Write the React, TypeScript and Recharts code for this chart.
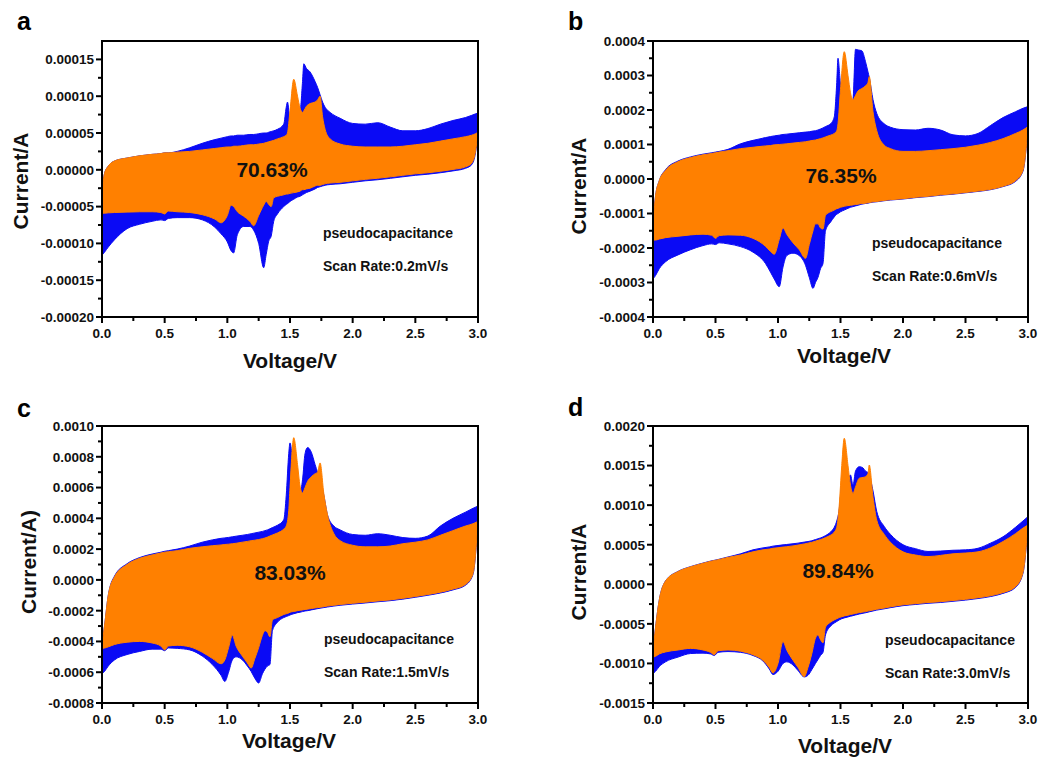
import React from 'react';
import { ComposedChart, Area, XAxis, YAxis } from 'recharts';

// currents below are written in units of 1e-4 A
const UNIT = 1e-4;

const voltageTicks = [0, 0.5, 1.0, 1.5, 2.0, 2.5, 3.0];

// ---- panel a : 0.2 mV/s ----
const voltageA = [0, 0.02, 0.05, 0.1, 0.2, 0.3, 0.4, 0.47, 0.5, 0.53,
    0.6, 0.7, 0.8, 0.9, 0.95, 1.0, 1.03, 1.05, 1.08, 1.13,
    1.18, 1.21, 1.25, 1.29, 1.31, 1.33, 1.35, 1.37, 1.4, 1.45,
    1.47, 1.48, 1.5, 1.53, 1.56, 1.58, 1.6, 1.61, 1.63, 1.66,
    1.7, 1.72, 1.74, 1.76, 1.78, 1.82, 1.9, 2.0, 2.1, 2.2,
    2.3, 2.4, 2.5, 2.6, 2.7, 2.8, 2.9, 2.95, 2.98, 3.0];
const totalUpA = [-0.3, -0.05, 0.05, 0.12, 0.16, 0.19, 0.21, 0.22, 0.23, 0.23,
    0.25, 0.3, 0.36, 0.41, 0.43, 0.45, 0.46, 0.46, 0.47, 0.47,
    0.48, 0.48, 0.49, 0.5, 0.5, 0.51, 0.52, 0.53, 0.55, 0.62,
    0.85, 0.92, 0.7, 0.9, 0.85, 0.8, 1.2, 1.44, 1.38, 1.33,
    1.2, 1.12, 1.02, 0.92, 0.85, 0.78, 0.7, 0.63, 0.62, 0.64,
    0.58, 0.53, 0.53, 0.56, 0.62, 0.67, 0.71, 0.74, 0.76, 0.77];
const totalDownA = [-1.16, -1.12, -1.05, -0.95, -0.8, -0.74, -0.7, -0.68, -0.69, -0.66,
    -0.65, -0.65, -0.68, -0.78, -0.87, -0.98, -1.1, -1.13, -0.88, -0.77,
    -0.77, -0.82, -1.0, -1.33, -1.15, -0.97, -0.9, -0.7, -0.6, -0.5,
    -0.47, -0.46, -0.43, -0.4, -0.37, -0.36, -0.34, -0.33, -0.31, -0.29,
    -0.26, -0.24, -0.23, -0.22, -0.21, -0.2, -0.19, -0.17, -0.15, -0.135,
    -0.116, -0.095, -0.075, -0.06, -0.04, -0.015, 0.02, 0.07, 0.23, 0.5];
const pseudoUpA = [-0.3, -0.05, 0.05, 0.12, 0.16, 0.19, 0.21, 0.22, 0.23, 0.23,
    0.24, 0.25, 0.27, 0.29, 0.3, 0.31, 0.31, 0.32, 0.32, 0.33,
    0.34, 0.34, 0.35, 0.36, 0.37, 0.38, 0.39, 0.4, 0.42, 0.45,
    0.47, 0.5, 0.8, 1.23, 1.0, 0.84, 0.78, 0.8, 0.86, 0.9,
    0.92, 0.95, 1.0, 0.72, 0.55, 0.42, 0.35, 0.32, 0.31, 0.31,
    0.31, 0.32, 0.34, 0.36, 0.39, 0.42, 0.45, 0.47, 0.49, 0.51];
const pseudoDownA = [-0.59, -0.59, -0.585, -0.58, -0.575, -0.57, -0.57, -0.58, -0.6, -0.56,
    -0.57, -0.58, -0.61, -0.67, -0.72, -0.62, -0.48, -0.5, -0.57, -0.63,
    -0.7, -0.76, -0.62, -0.48, -0.43, -0.47, -0.5, -0.38, -0.36, -0.34,
    -0.33, -0.33, -0.32, -0.31, -0.3, -0.29, -0.27, -0.27, -0.26, -0.25,
    -0.22, -0.21, -0.21, -0.2, -0.19, -0.18, -0.17, -0.15, -0.13, -0.115,
    -0.096, -0.075, -0.055, -0.04, -0.02, 0.005, 0.04, 0.09, 0.25, 0.5];
const currentTicksA = [-0.0002, -0.00015, -0.0001, -0.00005, 0, 0.00005, 0.0001, 0.00015];

// ---- panel b : 0.6 mV/s ----
const voltageB = [0, 0.02, 0.05, 0.1, 0.2, 0.3, 0.4, 0.47, 0.5, 0.53,
    0.6, 0.7, 0.8, 0.9, 0.94, 0.97, 1.01, 1.04, 1.07, 1.12,
    1.17, 1.22, 1.25, 1.28, 1.3, 1.32, 1.34, 1.36, 1.38, 1.42,
    1.45, 1.47, 1.48, 1.5, 1.53, 1.56, 1.58, 1.6, 1.62, 1.64,
    1.67, 1.7, 1.72, 1.73, 1.76, 1.79, 1.85, 1.9, 2.0, 2.1,
    2.2, 2.3, 2.4, 2.5, 2.6, 2.7, 2.8, 2.9, 2.96, 3.0];
const totalUpB = [-1.3, -0.5, -0.05, 0.27, 0.52, 0.64, 0.72, 0.76, 0.78, 0.8,
    0.86, 1.02, 1.12, 1.2, 1.23, 1.25, 1.27, 1.29, 1.3, 1.32,
    1.34, 1.36, 1.37, 1.39, 1.4, 1.42, 1.45, 1.48, 1.52, 1.6,
    1.8, 2.8, 3.5, 2.8, 2.6, 2.3, 2.1, 2.3, 3.76, 3.74,
    3.72, 3.4, 3.1, 2.95, 2.3, 1.9, 1.6, 1.5, 1.43, 1.42,
    1.47, 1.42, 1.28, 1.25, 1.32, 1.55, 1.78, 1.95, 2.05, 2.1];
const totalDownB = [-2.9, -2.8, -2.6, -2.4, -2.2, -2.05, -1.93, -1.88, -1.9, -1.85,
    -1.88, -1.96, -2.12, -2.45, -2.7, -2.9, -3.12, -2.55, -2.22, -2.15,
    -2.22, -2.5, -2.85, -3.17, -3.0, -2.85, -2.6, -2.45, -1.5, -1.25,
    -1.1, -1.02, -1.0, -0.95, -0.9, -0.85, -0.82, -0.8, -0.78, -0.76,
    -0.73, -0.71, -0.7, -0.69, -0.67, -0.66, -0.63, -0.61, -0.58, -0.54,
    -0.51, -0.47, -0.44, -0.4, -0.36, -0.31, -0.22, -0.07, 0.23, 1.5];
const pseudoUpB = [-1.3, -0.5, -0.05, 0.25, 0.5, 0.62, 0.7, 0.74, 0.76, 0.78,
    0.82, 0.88, 0.92, 0.96, 0.97, 0.99, 1.0, 1.01, 1.02, 1.04,
    1.06, 1.08, 1.1, 1.12, 1.13, 1.15, 1.17, 1.19, 1.22, 1.27,
    1.32, 1.4, 1.6, 2.6, 3.69, 3.0, 2.5, 2.3, 2.42, 2.55,
    2.62, 2.7, 2.8, 2.97, 1.95, 1.4, 0.98, 0.88, 0.8, 0.8,
    0.82, 0.85, 0.88, 0.92, 0.98, 1.06, 1.17, 1.32, 1.42, 1.52];
const pseudoDownB = [-1.77, -1.77, -1.74, -1.7, -1.66, -1.62, -1.6, -1.63, -1.72, -1.64,
    -1.62, -1.63, -1.72, -1.95, -2.1, -2.18, -1.75, -1.42, -1.6, -1.85,
    -2.05, -2.3, -1.9, -1.5, -1.3, -1.3, -1.42, -1.45, -1.05, -0.95,
    -0.9, -0.86, -0.85, -0.82, -0.79, -0.77, -0.76, -0.75, -0.74, -0.73,
    -0.71, -0.7, -0.69, -0.68, -0.66, -0.65, -0.62, -0.6, -0.57, -0.53,
    -0.5, -0.46, -0.43, -0.39, -0.35, -0.3, -0.21, -0.05, 0.25, 1.5];
const currentTicksB = [-0.0004, -0.0003, -0.0002, -0.0001, 0, 0.0001, 0.0002, 0.0003, 0.0004];

// ---- panel c : 1.5 mV/s ----
const voltageC = [0, 0.02, 0.05, 0.1, 0.2, 0.3, 0.4, 0.47, 0.5, 0.53,
    0.6, 0.7, 0.8, 0.88, 0.95, 0.98, 1.01, 1.04, 1.07, 1.12,
    1.16, 1.19, 1.22, 1.25, 1.28, 1.3, 1.32, 1.34, 1.36, 1.4,
    1.45, 1.47, 1.49, 1.5, 1.53, 1.56, 1.58, 1.6, 1.62, 1.64,
    1.67, 1.7, 1.72, 1.74, 1.77, 1.8, 1.85, 1.9, 2.0, 2.1,
    2.2, 2.3, 2.4, 2.5, 2.6, 2.7, 2.8, 2.9, 2.96, 3.0];
const totalUpC = [-4.2, -3.0, -1.0, 0.25, 1.05, 1.45, 1.68, 1.8, 1.86, 1.9,
    2.0, 2.2, 2.45, 2.6, 2.7, 2.73, 2.76, 2.8, 2.84, 2.9,
    2.95, 3.0, 3.05, 3.1, 3.15, 3.2, 3.25, 3.32, 3.4, 3.55,
    3.9, 5.5, 8.2, 8.9, 7.0, 6.0, 5.7, 6.5, 8.2, 8.6,
    8.3, 7.5, 7.0, 6.6, 5.5, 4.2, 3.5, 3.25, 2.95, 2.9,
    3.0, 2.9, 2.75, 2.7, 2.85, 3.5, 4.0, 4.4, 4.65, 4.8];
const totalDownC = [-6.1, -5.95, -5.6, -5.2, -4.85, -4.65, -4.5, -4.5, -4.6, -4.42,
    -4.45, -4.55, -4.95, -5.5, -6.2, -6.6, -6.0, -5.2, -5.0, -5.2,
    -5.6, -5.95, -6.4, -6.7, -6.1, -5.8, -5.6, -5.5, -3.3, -2.75,
    -2.45, -2.38, -2.32, -2.28, -2.2, -2.13, -2.1, -2.06, -2.02, -2.0,
    -1.95, -1.9, -1.87, -1.84, -1.8, -1.76, -1.7, -1.65, -1.57, -1.5,
    -1.42, -1.35, -1.25, -1.13, -1.0, -0.85, -0.65, -0.35, 0.35, 3.8];
const pseudoUpC = [-4.2, -3.0, -1.0, 0.2, 1.0, 1.4, 1.62, 1.75, 1.8, 1.83,
    1.9, 2.05, 2.15, 2.22, 2.27, 2.3, 2.32, 2.35, 2.38, 2.45,
    2.5, 2.55, 2.58, 2.62, 2.68, 2.72, 2.78, 2.85, 2.92, 3.05,
    3.3, 3.5, 4.5, 6.0, 9.24, 7.5, 6.1, 5.65, 6.0, 6.4,
    6.7, 6.9, 7.0, 7.6, 5.6, 4.2, 3.0, 2.55, 2.25, 2.15,
    2.15, 2.2, 2.35, 2.45, 2.6, 2.9, 3.2, 3.5, 3.65, 3.8];
const pseudoDownC = [-4.45, -4.43, -4.35, -4.2, -4.05, -4.0, -4.1, -4.3, -4.55, -4.3,
    -4.25, -4.35, -4.7, -5.1, -5.45, -5.2, -4.4, -3.6, -4.3, -4.95,
    -5.4, -5.73, -5.1, -4.4, -3.6, -3.3, -3.4, -3.7, -2.6, -2.45,
    -2.25, -2.2, -2.15, -2.1, -2.05, -2.0, -1.97, -1.95, -1.92, -1.9,
    -1.86, -1.82, -1.8, -1.78, -1.74, -1.7, -1.65, -1.6, -1.52, -1.45,
    -1.37, -1.3, -1.2, -1.08, -0.95, -0.8, -0.6, -0.3, 0.4, 3.8];
const currentTicksC = [-0.0008, -0.0006, -0.0004, -0.0002, 0, 0.0002, 0.0004, 0.0006, 0.0008, 0.001];

// ---- panel d : 3.0 mV/s ----
const voltageD = [0, 0.02, 0.05, 0.1, 0.2, 0.3, 0.4, 0.46, 0.49, 0.52,
    0.6, 0.7, 0.8, 0.88, 0.93, 0.96, 1.0, 1.04, 1.07, 1.12,
    1.16, 1.21, 1.24, 1.27, 1.3, 1.32, 1.34, 1.36, 1.38, 1.42,
    1.45, 1.47, 1.49, 1.51, 1.53, 1.56, 1.58, 1.6, 1.62, 1.65,
    1.68, 1.7, 1.72, 1.73, 1.76, 1.79, 1.85, 1.9, 2.0, 2.1,
    2.2, 2.3, 2.4, 2.5, 2.6, 2.7, 2.8, 2.9, 2.96, 3.0];
const totalUpD = [-8.5, -5.5, -2.0, 0.42, 1.63, 2.23, 2.68, 2.93, 3.03, 3.13,
    3.45, 3.85, 4.35, 4.6, 4.72, 4.82, 4.9, 4.98, 5.03, 5.12,
    5.2, 5.33, 5.4, 5.5, 5.65, 5.75, 5.86, 5.98, 6.15, 6.6,
    7.2, 8.0, 9.5, 13.0, 15.0, 13.5, 13.8, 12.5, 14.3, 14.86,
    14.7, 14.3, 14.1, 13.8, 11.8, 9.2, 7.3, 6.3, 5.0, 4.5,
    4.15, 4.2, 4.3, 4.35, 4.55, 5.2, 6.0, 7.2, 8.0, 8.55];
const totalDownD = [-11.3, -11.0, -10.4, -9.8, -9.2, -8.75, -8.7, -8.8, -9.0, -8.6,
    -8.5, -8.6, -9.0, -9.7, -10.7, -11.4, -11.0, -10.0, -9.8, -10.2,
    -10.9, -11.7, -11.5, -10.8, -10.0, -9.5, -9.0, -8.6, -6.4, -5.3,
    -4.9, -4.7, -4.5, -4.35, -4.25, -4.12, -4.04, -3.96, -3.88, -3.76,
    -3.66, -3.6, -3.52, -3.48, -3.37, -3.26, -3.1, -2.95, -2.7, -2.55,
    -2.4, -2.3, -2.15, -2.0, -1.8, -1.55, -1.15, -0.4, 1.4, 7.5];
const pseudoUpD = [-8.5, -5.5, -2.0, 0.4, 1.6, 2.2, 2.65, 2.9, 3.0, 3.1,
    3.4, 3.7, 4.1, 4.35, 4.45, 4.55, 4.62, 4.7, 4.75, 4.85,
    4.95, 5.1, 5.2, 5.3, 5.45, 5.55, 5.65, 5.75, 5.9, 6.2,
    6.6, 7.2, 10.0, 15.0, 18.45, 15.0, 12.5, 11.5, 12.3, 13.4,
    13.5, 13.6, 14.0, 15.07, 11.0, 8.1, 6.3, 5.3, 4.1, 3.7,
    3.5, 3.65, 3.85, 3.95, 4.1, 4.6, 5.4, 6.4, 7.1, 7.5];
const pseudoDownD = [-9.2, -9.1, -8.8, -8.55, -8.3, -8.1, -8.3, -8.6, -8.9, -8.4,
    -8.3, -8.45, -8.9, -9.6, -10.5, -11.2, -10.0, -7.25, -8.3, -9.6,
    -10.5, -11.67, -10.5, -8.8, -6.8, -6.4, -7.0, -7.4, -5.4, -4.8,
    -4.5, -4.35, -4.2, -4.1, -4.0, -3.9, -3.82, -3.75, -3.68, -3.58,
    -3.5, -3.45, -3.38, -3.35, -3.25, -3.15, -3.0, -2.85, -2.6, -2.45,
    -2.3, -2.2, -2.05, -1.9, -1.7, -1.45, -1.05, -0.3, 1.5, 7.5];
const currentTicksD = [-0.0015, -0.001, -0.0005, 0, 0.0005, 0.001, 0.0015, 0.002];

const percentLabels = ['70.63%', '76.35%', '83.03%', '89.84%'];
const scanRates = ['0.2mV/s', '0.6mV/s', '1.5mV/s', '3.0mV/s'];

const BLUE = '#0a0af5';
const ORANGE = '#ff8000';
const FONT = 'Arial, Helvetica, sans-serif';
const FRAME = 2;

// majors plus one minor tick between each pair
const withMinors = (majors: number[]) => {
    const out: number[] = [];
    majors.forEach((m, i) => {
        out.push(m);
        if (i < majors.length - 1) out.push((m + majors[i + 1]) / 2);
    });
    return out;
};

const isMajor = (v: number, majors: number[]) => majors.some(m => Math.abs(m - v) < 1e-12);

const YTick = ({ x, y, payload, majors, digits }: any) => {
    const major = isMajor(payload.value, majors);
    return (
        <g>
            <line x1={x} x2={x - (major ? 6 : 4)} y1={y} y2={y} stroke="#000" strokeWidth={2} />
            {major && (
                <text x={x - 8} y={y} dy="0.36em" textAnchor="end" fontSize={13.5} fontWeight="bold" fontFamily={FONT} fill="#111">
                    {payload.value.toFixed(digits)}
                </text>
            )}
        </g>
    );
};

const XTick = ({ x, y, payload }: any) => {
    const major = isMajor(payload.value, voltageTicks);
    return (
        <g>
            <line x1={x} x2={x} y1={y} y2={y + (major ? 6 : 4)} stroke="#000" strokeWidth={2} />
            {major && (
                <text x={x} y={y + 21} textAnchor="middle" fontSize={13.5} fontWeight="bold" fontFamily={FONT} fill="#111">
                    {payload.value.toFixed(1)}
                </text>
            )}
        </g>
    );
};

const buildRows = (v: number[], tUp: number[], tDown: number[], pUp: number[], pDown: number[]) =>
    v.map((volt, i) => ({
        v: volt,
        total: [tDown[i] * UNIT, tUp[i] * UNIT],
        pseudo: [pDown[i] * UNIT, pUp[i] * UNIT],
    }));

const panels = [
    {
        letter: 'a', left: 0, top: 0, yWidth: 102, right: 42, mTop: 41, xHeight: 63,
        rows: buildRows(voltageA, totalUpA, totalDownA, pseudoUpA, pseudoDownA),
        ticks: currentTicksA, domain: [-0.0002, 0.000175], digits: 5, yTitle: 'Current/A',
        txt: { letter: [17, 30], yTitle: [20, 181], xTitle: [290, 368], pct: [272, 177], note: [323, 238, 271] },
    },
    {
        letter: 'b', left: 520, top: 0, yWidth: 133, right: 12, mTop: 41, xHeight: 63,
        rows: buildRows(voltageB, totalUpB, totalDownB, pseudoUpB, pseudoDownB),
        ticks: currentTicksB, domain: [-0.0004, 0.0004], digits: 4, yTitle: 'Current/A',
        txt: { letter: [48, 30], yTitle: [58, 186], xTitle: [324, 363], pct: [321, 183], note: [352, 248, 281] },
    },
    {
        letter: 'c', left: 0, top: 380, yWidth: 102, right: 42, mTop: 46, xHeight: 57,
        rows: buildRows(voltageC, totalUpC, totalDownC, pseudoUpC, pseudoDownC),
        ticks: currentTicksC, domain: [-0.0008, 0.001], digits: 4, yTitle: 'Current/A)',
        txt: { letter: [17, 37], yTitle: [28, 182], xTitle: [289, 368], pct: [290, 200], note: [324, 264, 297] },
    },
    {
        letter: 'd', left: 520, top: 380, yWidth: 133, right: 12, mTop: 46, xHeight: 57,
        rows: buildRows(voltageD, totalUpD, totalDownD, pseudoUpD, pseudoDownD),
        ticks: currentTicksD, domain: [-0.0015, 0.002], digits: 4, yTitle: 'Current/A',
        txt: { letter: [48, 36], yTitle: [58, 192], xTitle: [325, 373], pct: [318, 198], note: [365, 265, 298] },
    },
];

const CvPanel = ({ p, idx }: any) => {
    const t = p.txt;
    // plot box of this panel, from the margins handed to the chart
    const bx = p.yWidth;
    const by = p.mTop;
    const bw = 520 - p.right - p.yWidth;
    const bh = 380 - p.xHeight - p.mTop;
    return (
        <div style={{ position: 'absolute', left: p.left, top: p.top, width: 520, height: 380 }}>
            <ComposedChart
                width={520}
                height={380}
                data={p.rows}
                margin={{ top: p.mTop, right: p.right, left: 0, bottom: 0 }}
            >
                <XAxis
                    type="number"
                    dataKey="v"
                    domain={[0, 3]}
                    ticks={withMinors(voltageTicks)}
                    interval={0}
                    height={p.xHeight}
                    tickSize={0}
                    tickMargin={0}
                    tickLine={false}
                    axisLine={{ stroke: '#000', strokeWidth: FRAME }}
                    tick={(props: any) => <XTick {...props} />}
                />
                <YAxis
                    type="number"
                    domain={p.domain}
                    ticks={withMinors(p.ticks)}
                    interval={0}
                    width={p.yWidth}
                    tickSize={0}
                    tickMargin={0}
                    tickLine={false}
                    axisLine={{ stroke: '#000', strokeWidth: FRAME }}
                    tick={(props: any) => <YTick {...props} majors={p.ticks} digits={p.digits} />}
                />
                <Area type="monotone" dataKey="total" stroke={BLUE} strokeWidth={1} fill={BLUE} fillOpacity={1} isAnimationActive={false} />
                <Area type="monotone" dataKey="pseudo" stroke={ORANGE} strokeWidth={1} fill={ORANGE} fillOpacity={1} isAnimationActive={false} />
            </ComposedChart>
            <svg width={520} height={380} style={{ position: 'absolute', left: 0, top: 0, pointerEvents: 'none' }}>
                <g fontFamily={FONT} fontWeight="bold" fill="#111">
                    <text x={t.letter[0]} y={t.letter[1]} fontSize={25} fill="#000">{p.letter}</text>
                    <text transform={`translate(${t.yTitle[0]},${t.yTitle[1]}) rotate(-90)`} textAnchor="middle" dominantBaseline="central" fontSize={21}>
                        {p.yTitle}
                    </text>
                    <text x={t.xTitle[0]} y={t.xTitle[1]} textAnchor="middle" fontSize={21}>Voltage/V</text>
                    <text x={t.pct[0]} y={t.pct[1]} textAnchor="middle" fontSize={21}>{percentLabels[idx]}</text>
                    <text x={t.note[0]} y={t.note[1]} fontSize={14}>pseudocapacitance</text>
                    <text x={t.note[0]} y={t.note[2]} fontSize={14}>{`Scan Rate:${scanRates[idx]}`}</text>
                </g>
            </svg>
            {/* plot frame */}
            <div
                style={{
                    position: 'absolute',
                    left: bx - FRAME / 2,
                    top: by - FRAME / 2,
                    width: bw + FRAME,
                    height: bh + FRAME,
                    border: `${FRAME}px solid #000`,
                    boxSizing: 'border-box',
                    pointerEvents: 'none',
                }}
            />
        </div>
    );
};

export default function App() {
    return (
        <div style={{ position: 'absolute', left: 0, top: 0, width: 1040, height: 760, background: '#fff' }}>
            {panels.map((p, i) => (
                <CvPanel key={p.letter} p={p} idx={i} />
            ))}
        </div>
    );
}
